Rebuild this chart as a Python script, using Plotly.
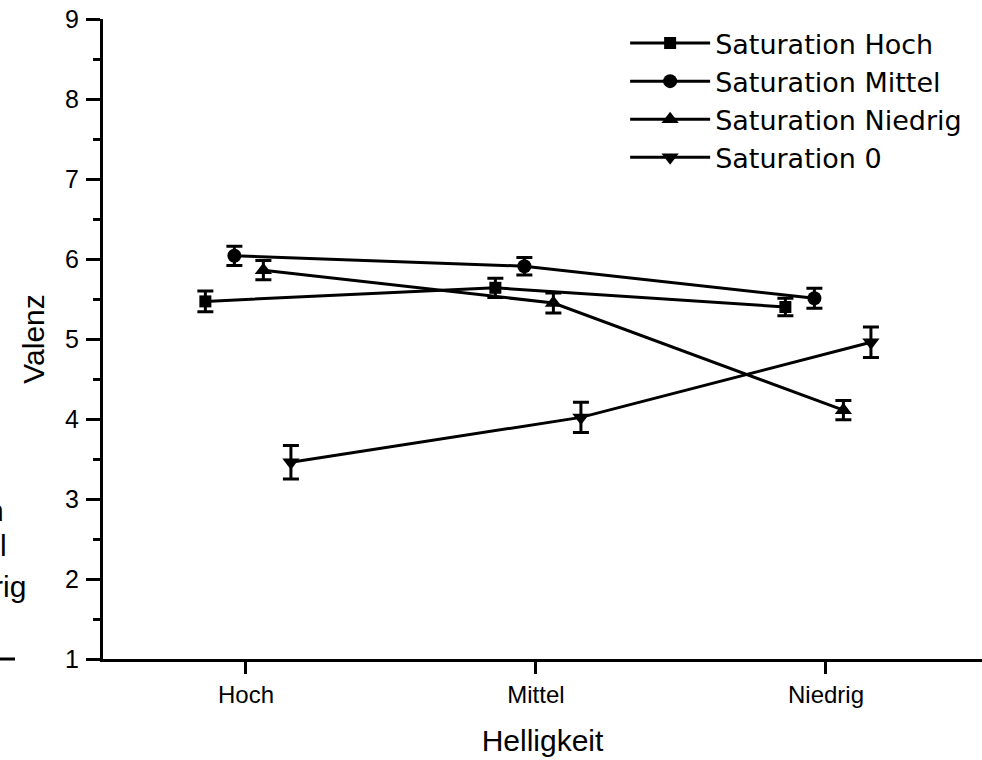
import plotly.graph_objects as go

categories = ["Hoch", "Mittel", "Niedrig"]
series_names = ["Saturation Hoch", "Saturation Mittel", "Saturation Niedrig", "Saturation 0"]
val_hoch = [5.47, 5.64, 5.40]
err_hoch = [0.13, 0.12, 0.11]
val_mittel = [6.04, 5.91, 5.51]
err_mittel = [0.12, 0.11, 0.125]
val_niedrig = [5.86, 5.45, 4.11]
err_niedrig = [0.12, 0.125, 0.12]
val_null = [3.46, 4.02, 4.96]
err_null = [0.21, 0.19, 0.19]
y_ticks = [1, 2, 3, 4, 5, 6, 7, 8, 9]

values = [val_hoch, val_mittel, val_niedrig, val_null]
errors = [err_hoch, err_mittel, err_niedrig, err_null]
symbols = ["square", "circle", "triangle-up", "triangle-down"]
sizes = [12, 14, 15, 15]
offsets = [-0.14, -0.04, 0.06, 0.155]

FONT = "Liberation Sans, Arial, sans-serif"

fig = go.Figure()
for name, v, e, s, sz, off in zip(series_names, values, errors, symbols, sizes, offsets):
    fig.add_trace(go.Scatter(
        x=[i + off for i in range(len(categories))],
        y=v,
        name=name,
        mode="lines+markers",
        line=dict(color="black", width=3),
        marker=dict(symbol=s, size=sz, color="black"),
        error_y=dict(type="data", array=e, visible=True, color="black",
                     thickness=3, width=8),
        cliponaxis=False,
    ))

fig.update_layout(
    width=982, height=760,
    margin=dict(l=103, r=0, t=19, b=101),
    paper_bgcolor="white", plot_bgcolor="white",
    font=dict(family=FONT, color="black"),
    showlegend=True,
    legend=dict(x=0.594, y=1.0, xanchor="left", yanchor="top",
                font=dict(size=27, family="DejaVu Sans, " + FONT), bgcolor="rgba(0,0,0,0)",
                tracegroupgap=0, itemwidth=80),
    xaxis=dict(
        range=[-0.493, 2.538],
        tickmode="array", tickvals=list(range(len(categories))), ticktext=categories,
        ticks="outside", ticklen=12, tickwidth=2.5, tickcolor="black",
        showline=True, linecolor="black", linewidth=3,
        showgrid=False, zeroline=False,
        tickfont=dict(size=24, family=FONT),
        title=dict(text="Helligkeit", font=dict(size=30, family=FONT), standoff=24),
    ),
    yaxis=dict(
        range=[1, 9],
        tickmode="array", tickvals=y_ticks,
        ticks="outside", ticklen=14, tickwidth=2.5, tickcolor="black",
        minor=dict(dtick=0.5, ticks="outside", ticklen=7, tickwidth=2.5, tickcolor="black"),
        showline=True, linecolor="black", linewidth=3,
        showgrid=False, zeroline=False,
        tickfont=dict(size=25, family=FONT),
        ticklabelstandoff=2,
        title=dict(text="Valenz", font=dict(size=30, family=FONT), standoff=12),
    ),
)

# Fragments of a neighbouring chart visible at the left edge
for txt, xp, yp in [("n", 6, 510), ("l", 9, 545), ("rig", 28, 586)]:
    fig.add_annotation(text=txt, xref="paper", yref="paper",
                       x=(xp - 103) / 879, y=(659 - yp) / 640,
                       xanchor="right", yanchor="middle", showarrow=False,
                       font=dict(size=30, family=FONT, color="black"))
fig.add_shape(type="line", xref="paper", yref="paper",
              x0=-103 / 879, x1=(15 - 103) / 879, y0=0, y1=0,
              line=dict(color="black", width=3))

fig.write_html("out.html")
